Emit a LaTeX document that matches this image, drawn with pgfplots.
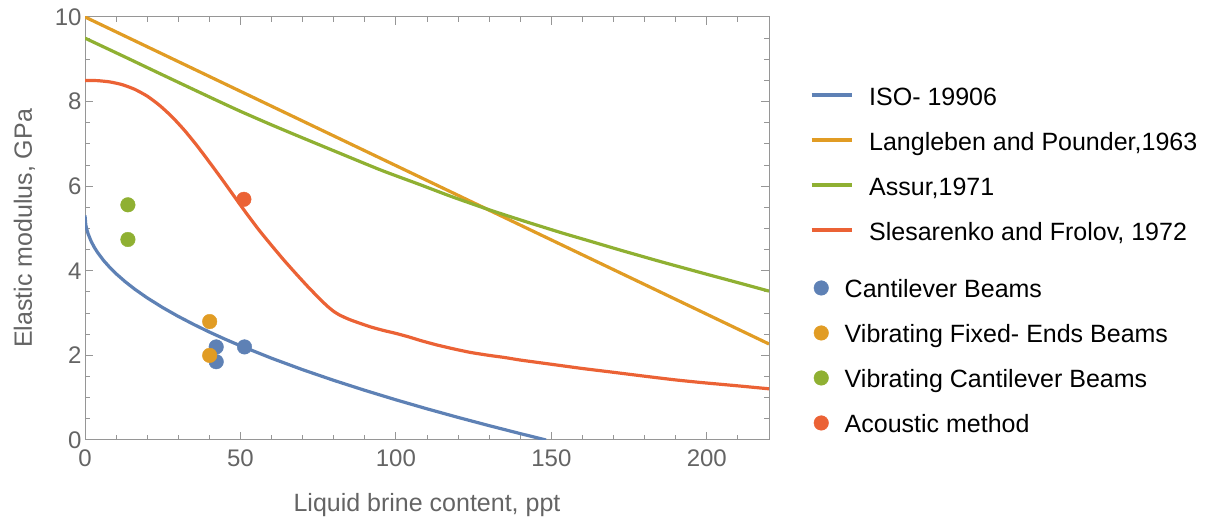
\documentclass[border=0pt]{standalone}
\usepackage{fontspec}
\setmainfont{Liberation Sans}
\usepackage{pgfplots}
\pgfplotsset{compat=1.18}
\definecolor{cblue}{RGB}{94,129,181}
\definecolor{corange}{RGB}{225,156,36}
\definecolor{cgreen}{RGB}{143,176,50}
\definecolor{cred}{RGB}{235,98,53}
\definecolor{framegray}{RGB}{150,150,150}
\definecolor{labelgray}{RGB}{100,100,100}
\begin{document}
\begin{tikzpicture}
\path[use as bounding box] (0,0) rectangle (1211pt,521pt);
\begin{axis}[
  at={(85pt,81pt)}, anchor=south west,
  scale only axis, width=684pt, height=423pt,
  xmin=0, xmax=220, ymin=0, ymax=10,
  xtick={0,50,100,150,200}, ytick={0,2,4,6,8,10},
  minor xtick={0,10,...,220}, minor ytick={0,0.5,...,10},
  tick align=inside,
  major tick length=8pt, minor tick length=5pt,
  every tick/.style={framegray, line width=1pt},
  axis line style={framegray, line width=1pt},
  /pgf/number format/assume math mode=true,
  ticklabel style={font=\fontsize{24}{28}\selectfont, text=labelgray},
  xticklabel style={yshift=-6pt},
  label style={font=\fontsize{25}{30}\selectfont, text=labelgray},
  xlabel={Liquid brine content, ppt},
  ylabel={Elastic modulus, GPa},
  xlabel style={at={(axis description cs:0.5,-0.170)}, anchor=base},
  ylabel style={at={(axis description cs:-0.0775,0.5)}, anchor=base},
  legend style={at={(1.0599,0.8392)}, anchor=north west, draw=none, fill=none,
    inner sep=0pt, outer sep=0pt, row sep=25pt, column sep=16pt,
    font=\fontsize{25}{30}\selectfont,
    nodes={inner sep=0pt, text height=20pt, text depth=0pt}},
  legend cell align=left,
  legend image code/.code={\draw (0pt,0pt) -- (40pt,0pt);},
]
% ISO 19906
\addplot[cblue, line width=3.2pt] coordinates {
(0,5.31)(0.25,5.092)(0.5,5.002)(1,4.874)(2,4.693)(3,4.555)(4,4.438)(6,4.242)(8,4.077)(10,3.931)(13,3.738)(16,3.566)(20,3.360)(25,3.130)(30,2.922)(35,2.731)(40,2.552)(45,2.385)(50,2.227)(60,1.933)(70,1.662)(80,1.410)(90,1.174)(100,0.950)(110,0.737)(120,0.534)(130,0.339)(140,0.151)(148.3,0.0)};
\addlegendentry{ISO- 19906}
% Langleben and Pounder
\addplot[corange, line width=3.2pt] coordinates {(0,10)(220,2.27)};
\addlegendentry{Langleben and Pounder,1963}
% Assur
\addplot[cgreen, line width=3.2pt, smooth, tension=0.4] coordinates {
(0,9.50)(13,9.05)(25,8.63)(40,8.11)(50,7.77)(60,7.45)(69.4,7.16)(80.6,6.82)(95.2,6.38)(108,6.03)(117.7,5.76)(130.1,5.44)(141,5.18)(153.2,4.90)(162,4.71)(172.6,4.48)(185,4.22)(198.4,3.95)(210,3.72)(220,3.52)};
\addlegendentry{Assur,1971}
% Slesarenko and Frolov
\addplot[cred, line width=3.2pt, smooth, tension=0.35] coordinates {
(0,8.50)(4,8.495)(8,8.465)(12,8.40)(16,8.29)(20,8.13)(24,7.91)(28,7.64)(32,7.32)(36,6.96)(40,6.57)(44,6.17)(48,5.76)(52,5.35)(56,4.96)(60,4.60)(64,4.25)(68,3.92)(72,3.60)(76,3.30)(78,3.16)(80,3.04)(82,2.95)(85,2.85)(88,2.77)(92,2.67)(96,2.59)(100,2.52)(104,2.44)(108,2.35)(113,2.25)(118.8,2.15)(124,2.07)(130,2.00)(135,1.95)(140,1.89)(150,1.79)(160,1.69)(170,1.60)(182,1.49)(190,1.42)(198,1.36)(210,1.28)(220,1.21)};
\addlegendentry{Slesarenko and Frolov, 1972}
% measured points
\addplot[forget plot, only marks, mark=*, mark size=7.3pt, cblue, mark options={draw=none, fill=cblue}] coordinates {(42.2,2.2)(42.2,1.85)(51.3,2.2)};
\addplot[forget plot, only marks, mark=*, mark size=7.3pt, corange, mark options={draw=none, fill=corange}] coordinates {(40.1,2.8)(40.1,2.0)};
\addplot[forget plot, only marks, mark=*, mark size=7.3pt, cgreen, mark options={draw=none, fill=cgreen}] coordinates {(13.8,5.56)(13.8,4.74)};
\addplot[forget plot, only marks, mark=*, mark size=7.3pt, cred, mark options={draw=none, fill=cred}] coordinates {(51.1,5.69)};
\end{axis}
\begin{axis}[
  at={(85pt,81pt)}, anchor=south west,
  scale only axis, width=684pt, height=423pt,
  xmin=0, xmax=1, ymin=0, ymax=1, hide axis,
  legend style={at={(1.0654,0.383)}, anchor=north west, draw=none, fill=none,
    inner sep=0pt, outer sep=0pt, row sep=25pt, column sep=16pt,
    font=\fontsize{25}{30}\selectfont,
    nodes={inner sep=0pt, text height=20pt, text depth=0pt}},
  legend cell align=left,
  legend image code/.code={\fill (7.3pt,0pt) circle (7.3pt);},
]
\addlegendimage{cblue}
\addlegendentry{Cantilever Beams}
\addlegendimage{corange}
\addlegendentry{Vibrating Fixed- Ends Beams}
\addlegendimage{cgreen}
\addlegendentry{Vibrating Cantilever Beams}
\addlegendimage{cred}
\addlegendentry{Acoustic method}
\end{axis}
\end{tikzpicture}
\end{document}
